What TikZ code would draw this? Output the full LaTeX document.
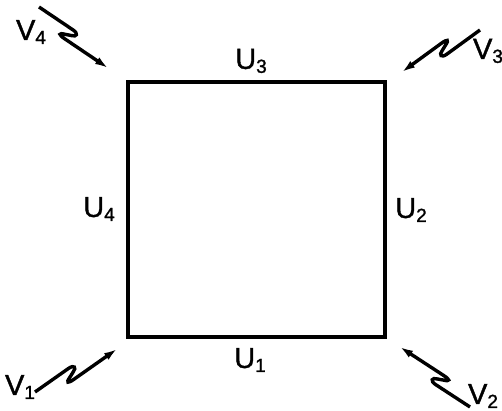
\documentclass[tikz,border=0pt]{standalone}
\usepackage{fontspec}
\setmainfont{Liberation Sans}
\newfontface\lblfont{Liberation Sans}[FakeBold=1.3]
\usetikzlibrary{arrows.meta, calc, positioning}
\newcommand{\sublbl}[2]{#1\raisebox{-4pt}{\fontsize{19}{19}\selectfont #2}}

\tikzset{
  waveframe/.style={shift={(\tikztostart)}, rotate=\n2},
  photon/.style={line width=3.4pt, -{Latex[length=13pt,width=8pt]},
    to path={let \p1=($(\tikztotarget)-(\tikztostart)$),
      \n1={veclen(\x1,\y1)}, \n2={atan2(\y1,\x1)+asin(12/\n1)} in
      -- ([waveframe]41,0) .. controls ([waveframe]48,0) and ([waveframe]48,-4) .. ([waveframe]43,-5.5)
      -- ([waveframe]37,-8) .. controls ([waveframe]30,-10.5) and ([waveframe]32,-12) .. ([waveframe]39,-12)
      -- (\tikztotarget)}},
  plate/.style={draw, line width=3.2pt, minimum width=257pt, minimum height=255pt, inner sep=0pt},
  lbl/.style={font=\lblfont\fontsize{29}{32}\selectfont, inner sep=0pt}
}

\begin{document}
\begin{tikzpicture}[x=1pt, y=1pt]
  \useasboundingbox (0,0) rectangle (502,411);
  % Square
  \node[plate] (sq) at (256.5,201.5) {};
  % Side labels
  \node[lbl] (u1) at (250,51) {\sublbl{U}{1}};
  \node[lbl] (u2) at (411,201) {\sublbl{U}{2}};
  \node[lbl] (u3) at (251,350) {\sublbl{U}{3}};
  \node[lbl] (u4) at (99,202) {\sublbl{U}{4}};
  % Corner labels
  \node[lbl] (v1) at (20,24) {\sublbl{V}{1}};
  \node[lbl] (v2) at (483,15) {\sublbl{V}{2}};
  \node[lbl] (v3) at (488,360) {\sublbl{V}{3}};
  \node[lbl] (v4) at (31,379) {\sublbl{V}{4}};
  % Arrow ends
  \coordinate (v1s) at (35,19);   \coordinate (v1e) at (117,62);
  \coordinate (v2s) at (470,4);   \coordinate (v2e) at (400,64);
  \coordinate (v3s) at (480,381); \coordinate (v3e) at (402,339);
  \coordinate (v4s) at (39,404);  \coordinate (v4e) at (108,343);
  % Wavy arrows
  \draw[photon] (v1s) to (v1e);
  \draw[photon] (v2s) to (v2e);
  \draw[photon] (v3s) to (v3e);
  \draw[photon] (v4s) to (v4e);
\end{tikzpicture}
\end{document}
